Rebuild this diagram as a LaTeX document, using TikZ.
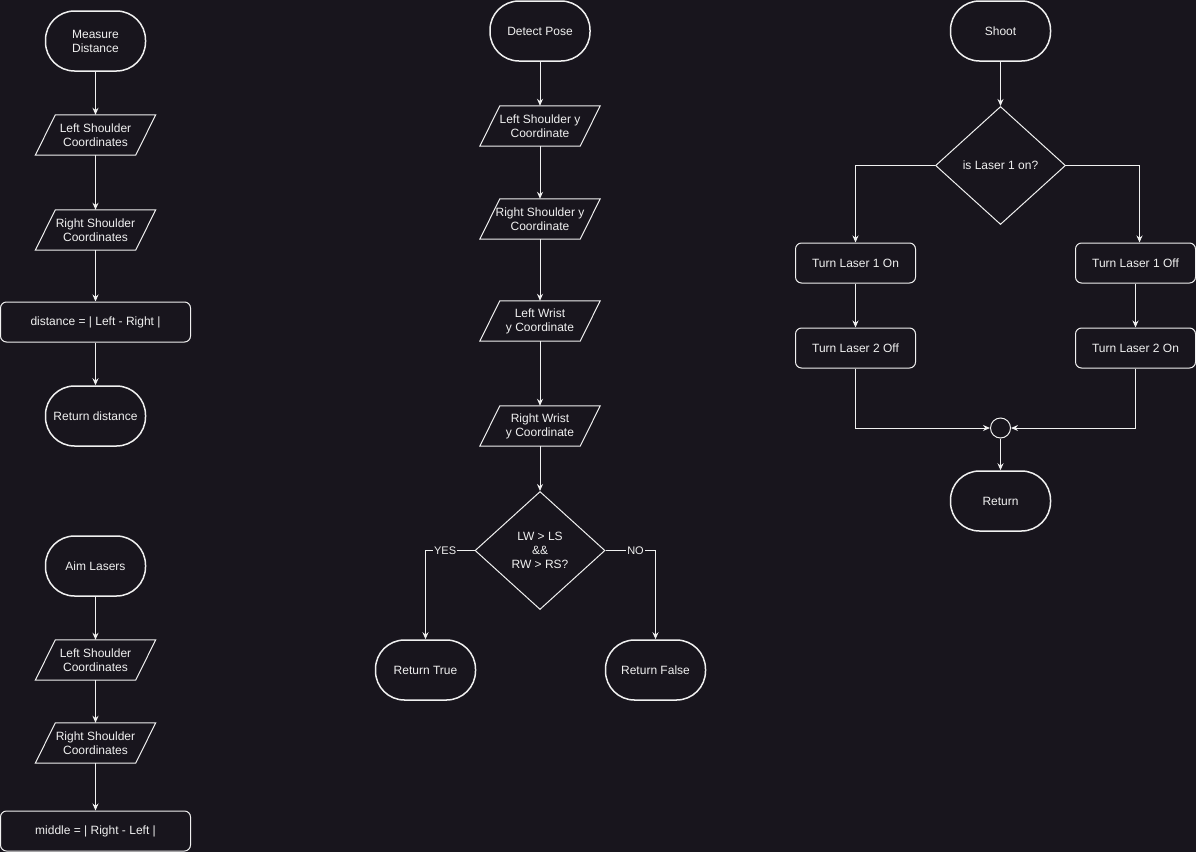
\documentclass[tikz,border=0pt]{standalone}
\usepackage{fontspec}
\setmainfont{Liberation Sans}
\usetikzlibrary{arrows.meta,shapes.geometric}
\definecolor{bg}{RGB}{24,21,29}
\definecolor{fg}{RGB}{240,240,240}

\begin{document}
\begin{tikzpicture}[x=1pt,y=-1pt,
        font=\fontsize{12}{14}\selectfont,
        every node/.style={text=fg, align=center},
        terminal/.style={draw=fg, line width=1.5pt, rounded corners=29pt, minimum width=100pt, minimum height=60pt, inner sep=0pt},
        io/.style={minimum width=100pt, minimum height=40pt, inner sep=0pt},
        process/.style={draw=fg, line width=1pt, rounded corners=6pt, minimum width=120pt, minimum height=40pt, inner sep=0pt},
        decision/.style={draw=fg, diamond, line width=1pt, minimum width=130pt, minimum height=118pt, inner sep=0pt},
        flow/.style={draw=fg, line width=1pt, -{Stealth[length=7pt,width=6pt]}},
        branch/.style={fill=bg, inner sep=1pt, font=\fontsize{11}{13}\selectfont}]
        \fill[bg] (0,0) rectangle (1196,852);
        \useasboundingbox (0,0) rectangle (1196,852);

        % measure distance
        \node[terminal] (md) at (95.5,41) {Measure\\Distance};
        \node[io] (md1) at (95.5,135) {Left Shoulder\\Coordinates};
        \node[io] (md2) at (95.5,230) {Right Shoulder\\Coordinates};
        \node[process, minimum width=190pt] (md3) at (95.5,322) {distance = | Left - Right |};
        \node[terminal] (md4) at (95.5,416) {Return distance};

        % aim lasers
        \node[terminal] (al) at (95.5,566) {Aim Lasers};
        \node[io] (al1) at (95.5,660) {Left Shoulder\\Coordinates};
        \node[io] (al2) at (95.5,743) {Right Shoulder\\Coordinates};
        \node[process, minimum width=190pt] (al3) at (95.5,831) {middle = | Right - Left |};

        % detect pose
        \node[terminal] (dp) at (540,31) {Detect Pose};
        \node[io] (dp1) at (540,126) {Left Shoulder y\\Coordinate};
        \node[io] (dp2) at (540,219) {Right Shoulder y\\Coordinate};
        \node[io] (dp3) at (540,321) {Left Wrist\\y Coordinate};
        \node[io] (dp4) at (540,426) {Right Wrist\\y Coordinate};
        \node[decision] (dp5) at (540,550.5) {LW > LS\\\&\&\\RW > RS?};
        \node[terminal] (dp6) at (425.5,670) {Return True};
        \node[terminal] (dp7) at (655.5,670) {Return False};

        % shoot
        \node[terminal] (sh) at (1000.5,31) {Shoot};
        \node[decision] (sh1) at (1000.5,165.5) {is Laser 1 on?};
        \node[process] (sh2) at (855.5,263) {Turn Laser 1 On};
        \node[process] (sh3) at (1135.5,263) {Turn Laser 1 Off};
        \node[process] (sh4) at (855.5,348) {Turn Laser 2 Off};
        \node[process] (sh5) at (1135.5,348) {Turn Laser 2 On};
        \node[draw=fg, circle, line width=1pt, minimum size=20pt, inner sep=0pt] (sh6) at (1000.5,428) {};
        \node[terminal] (sh7) at (1000.5,501) {Return};

        \foreach \n in {md1,md2,al1,al2,dp1,dp2,dp3,dp4}
            \draw[fg, line width=1pt] ([xshift=-10pt]\n.south west) -- ([xshift=-10pt]\n.south east)
                -- ([xshift=10pt]\n.north east) -- ([xshift=10pt]\n.north west) -- cycle;

        \draw[flow] (md) -- (md1);
        \draw[flow] (md1) -- (md2);
        \draw[flow] (md2) -- (md3);
        \draw[flow] (md3) -- (md4);

        \draw[flow] (al) -- (al1);
        \draw[flow] (al1) -- (al2);
        \draw[flow] (al2) -- (al3);

        \draw[flow] (dp) -- (dp1);
        \draw[flow] (dp1) -- (dp2);
        \draw[flow] (dp2) -- (dp3);
        \draw[flow] (dp3) -- (dp4);
        \draw[flow] (dp4) -- (dp5);
        \draw[flow] (dp5.west) -| node[branch, pos=0.3] {YES} (dp6.north);
        \draw[flow] (dp5.east) -| node[branch, pos=0.3] {NO} (dp7.north);

        \draw[flow] (sh) -- (sh1);
        \draw[flow] (sh1.west) -| (sh2.north);
        \draw[flow] (sh1.east) -| ([xshift=4pt]sh3.north);
        \draw[flow] (sh2) -- (sh4);
        \draw[flow] (sh3) -- (sh5);
        \draw[flow] (sh4.south) |- (sh6.west);
        \draw[flow] (sh5.south) |- (sh6.east);
        \draw[flow] (sh6) -- (sh7);
    \end{tikzpicture}
\end{document}
